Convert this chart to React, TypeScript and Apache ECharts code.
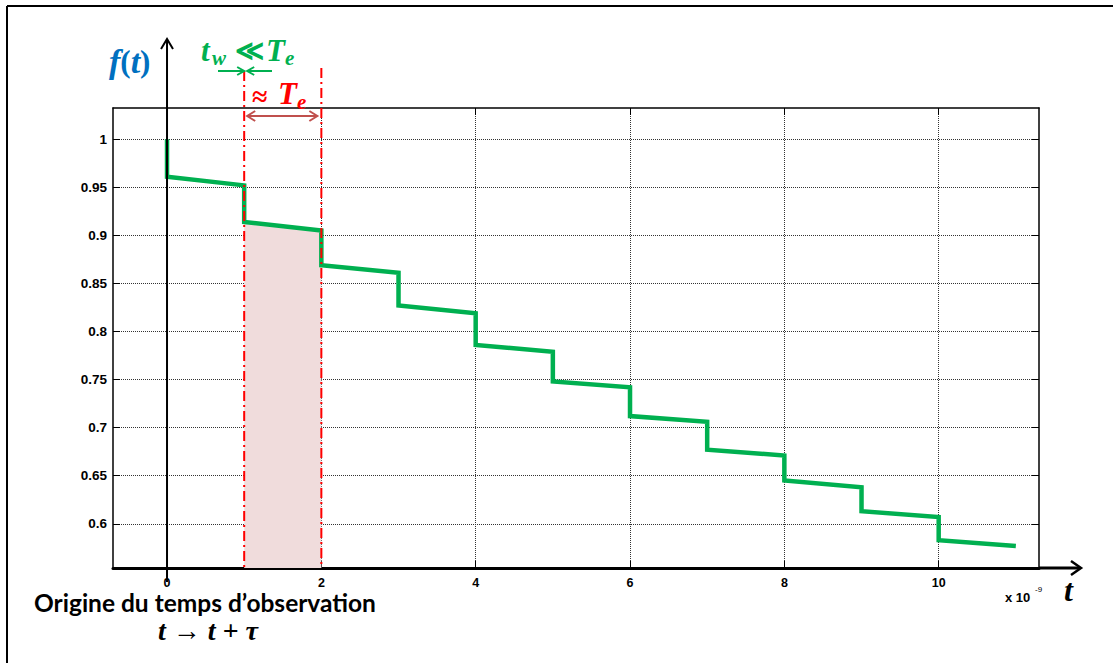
import React, { useEffect, useRef } from "react";
import * as echarts from "echarts";

// Step function f(t): pairs (t, f)
const stepT = [0, 0, 1, 1, 2, 2, 3, 3, 4, 4, 5, 5, 6, 6, 7, 7, 8, 8, 9, 9, 10, 10, 11];
const stepF = [1, 0.961, 0.952, 0.914, 0.905, 0.869, 0.861, 0.827, 0.819, 0.786, 0.779, 0.748, 0.742, 0.712, 0.706, 0.677, 0.671, 0.645, 0.638, 0.613, 0.607, 0.583, 0.577];
// Shaded window between t=1 and t=2
const shadeT = [1, 2];
const shadeF = [0.914, 0.905];
// Red dash-dot markers
const markerT = [1, 2];
const xTicks = [0, 2, 4, 6, 8, 10];
const yTicks = [0.6, 0.65, 0.7, 0.75, 0.8, 0.85, 0.9, 0.95, 1];
const X_MIN = -0.7;
const X_MAX = 11.3;
const Y_MIN = 0.554;
const Y_MAX = 1.0325;

const GREEN = "#00b050";
const RED = "#ff0000";
const BROWN = "#c0504d";
const BLUE = "#0070c0";
const SERIF = '"Liberation Serif", "DejaVu Serif", serif';
const SANS = '"Liberation Sans", Arial, sans-serif';

export default function App() {
  const ref = useRef<HTMLDivElement>(null);
  useEffect(() => {
    const chart = echarts.init(ref.current!, null, { renderer: "svg" });
    const stepData = stepT.map((t, i) => [t, stepF[i]]);
    const shadeData = shadeT.map((t, i) => [t, shadeF[i]]);
    const tickLabel = { color: "#000", fontWeight: "bold", fontFamily: SANS };
    const fmtY = (v: number) => String(Number(v.toFixed(2)));
    chart.setOption({
      animation: false,
      grid: { left: 113, top: 108, right: 74, bottom: 95 },
      xAxis: [
        {
          type: "value", min: X_MIN, max: X_MAX, position: "bottom",
          axisLine: { show: true, onZero: false, lineStyle: { color: "#000", width: 3 } },
          axisTick: { show: true, inside: true, length: 7, customValues: xTicks, lineStyle: { color: "#000", width: 1 } },
          axisLabel: { customValues: xTicks, ...tickLabel, fontSize: 12.5, margin: 8 },
          splitLine: { show: true, lineStyle: { color: "#333", type: "dotted", width: 1 } },
        },
        {
          type: "value", min: X_MIN, max: X_MAX, position: "top",
          axisLine: { show: true, onZero: false, lineStyle: { color: "#000", width: 1.5 } },
          axisTick: { show: true, inside: true, length: 7, customValues: xTicks, lineStyle: { color: "#000", width: 1 } },
          axisLabel: { show: false },
          splitLine: { show: false },
        },
      ],
      yAxis: [
        {
          type: "value", min: Y_MIN, max: Y_MAX, position: "left",
          axisLine: { show: true, onZero: false, lineStyle: { color: "#000", width: 1.5 } },
          axisTick: { show: true, inside: true, length: 7, customValues: yTicks, lineStyle: { color: "#000", width: 1 } },
          axisLabel: { customValues: yTicks, ...tickLabel, fontSize: 13.5, margin: 6, formatter: fmtY },
          splitLine: { show: true, lineStyle: { color: "#333", type: "dotted", width: 1 } },
        },
        {
          type: "value", min: Y_MIN, max: Y_MAX, position: "right",
          axisLine: { show: true, onZero: false, lineStyle: { color: "#000", width: 1.5 } },
          axisTick: { show: true, inside: true, length: 7, customValues: yTicks, lineStyle: { color: "#000", width: 1 } },
          axisLabel: { show: false },
          splitLine: { show: false },
        },
      ],
      series: [
        {
          type: "line", data: shadeData, showSymbol: false, symbol: "none", z: 1,
          lineStyle: { width: 0 },
          areaStyle: { color: "#f0dcdc", opacity: 1, origin: "start" },
        },
        {
          type: "line", data: stepData, showSymbol: false, symbol: "none", z: 3,
          lineStyle: { color: GREEN, width: 4.5, join: "miter" },
        },
      ],
    });

    const xp = (t: number) => chart.convertToPixel({ xAxisIndex: 0 }, t) as number;
    const yp = (v: number) => chart.convertToPixel({ yAxisIndex: 0 }, v) as number;
    const x0 = xp(0);
    const yBot = yp(Y_MIN);
    const xRight = xp(X_MAX);
    const mk = markerT.map(xp);
    const x1 = mk[0];
    const x2 = mk[1];

    const line = (xa: number, ya: number, xb: number, yb: number, stroke: string, lineWidth: number, extra: any = {}) => ({
      type: "line", z: 100, shape: { x1: xa, y1: ya, x2: xb, y2: yb },
      style: { stroke, lineWidth, ...extra },
    });
    const head = (x: number, y: number, dir: "l" | "r" | "u", stroke: string, w: number, len = 7, half = 4) => {
      let pts: number[][];
      if (dir === "r") pts = [[x - len, y - half], [x, y], [x - len, y + half]];
      else if (dir === "l") pts = [[x + len, y - half], [x, y], [x + len, y + half]];
      else pts = [[x - half, y + len], [x, y], [x + half, y + len]];
      return { type: "polyline", z: 100, shape: { points: pts }, style: { stroke, lineWidth: w, fill: null } };
    };
    const txt = (text: string, x: number, y: number, font: string, fill: string, align = "left") => ({
      type: "text", z: 100, x, y,
      style: { text, font, fill, align, verticalAlign: "middle" },
    });

    const mathB = (size: number) => `italic bold ${size}px ${SERIF}`;
    const upB = (size: number) => `bold ${size}px ${SERIF}`;

    chart.setOption({
      graphic: [
        // outer frame
        line(7, 6, 1113, 6, "#000", 2),
        line(7, 6, 7, 663, "#000", 2),
        // vertical f(t) axis with arrow
        line(x0, 40, x0, yBot + 14, "#000", 2),
        head(x0, 39, "u", "#000", 2, 10, 6),
        // horizontal t axis extension with arrow
        line(xRight, yBot, 1080, yBot, "#000", 3),
        head(1081, yBot, "r", "#000", 2.5, 10, 7),
        // red dash-dot markers
        ...mk.map((x, i) => line(x, i === 0 ? 71 : 68, x, yBot, RED, 2, { lineDash: [10, 4, 2, 4] })),
        // green arrows pointing to t=1
        line(218, 71, x1 - 1, 71, GREEN, 2),
        head(x1, 71, "r", GREEN, 2, 7, 4),
        line(272, 71, x1 + 4, 71, GREEN, 2),
        head(x1 + 3, 71, "l", GREEN, 2, 7, 4),
        // brown double arrow between markers
        line(x1 + 4, 116, x2 - 5, 116, BROWN, 2),
        head(x1 + 3, 116, "l", BROWN, 2, 8, 5),
        head(x2 - 4, 116, "r", BROWN, 2, 8, 5),
        // f(t)
        {
          type: "text", z: 100, x: 109, y: 61,
          style: {
            text: "{i|f}{u|(}{i|t}{u|)}",
            verticalAlign: "middle",
            rich: {
              i: { font: mathB(34), fill: BLUE },
              u: { font: upB(31), fill: BLUE },
            },
          },
        },
        // t_w << T_e
        txt("t", 201, 50, mathB(31), GREEN),
        txt("w", 212, 58, mathB(21), GREEN),
        txt("≪", 235, 50, upB(28), GREEN),
        txt("T", 266, 50, mathB(31), GREEN),
        txt("e", 285, 58, mathB(21), GREEN),
        // ≈ T_e
        txt("≈", 252, 96, upB(28), RED),
        txt("T", 278, 93, mathB(31), RED),
        txt("e", 297, 102, mathB(21), RED),
        // bottom texts
        txt("Origine du temps d’observation", 34, 602, `bold 24.5px Lato, "Open Sans", sans-serif`, "#000"),
        txt("t → t + τ", 208, 630, mathB(28), "#000", "center"),
        txt("t", 1064, 590, mathB(32), "#000"),
        txt("x 10", 1005, 597, `bold 13px ${SANS}`, "#000"),
        txt("-9", 1035, 589, `8px ${SANS}`, "#000"),
      ],
    });

    return () => chart.dispose();
  }, []);
  return (
    <div
      ref={ref}
      style={{ position: "fixed", left: 0, top: 0, width: 1113, height: 663, background: "#fff" }}
    />
  );
}
